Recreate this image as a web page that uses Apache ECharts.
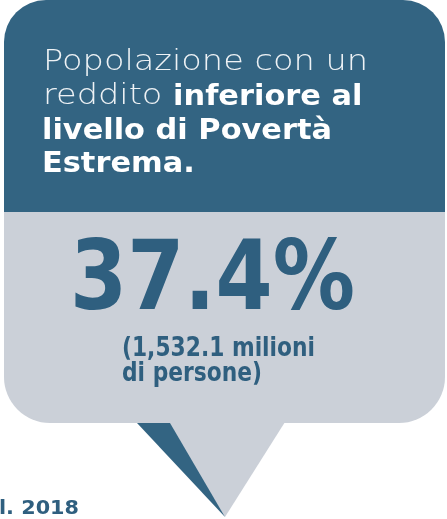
<!DOCTYPE html>
<html>
<head>
<meta charset="utf-8">
<script src="https://cdn.jsdelivr.net/npm/echarts@6/dist/echarts.min.js"></script>
<style>
html,body{margin:0;padding:0;background:#ffffff;}
#chart{width:447px;height:519px;}
</style>
</head>
<body>
<div id="chart"></div>
<script>
// Data
const titleLines = ['Popolazione con un', 'reddito ', 'inferiore al', 'livello di Povertà', 'Estrema.'];
const percentValue = [37.4];
const peopleMillions = [1532.1];
const peopleLabel = ['milioni', 'di persone'];
const sourceText = ['l. 2018'];

const BLUE = '#336482';
const GRAY = '#cbd0d8';
const DARK = '#2f5f7f';
const FONT = '"DejaVu Sans", "Noto Sans", sans-serif';

function fmtNum(v) {
  const parts = v.toFixed(1).split('.');
  parts[0] = parts[0].replace(/\B(?=(\d{3})+(?!\d))/g, ',');
  return parts.join('.');
}

const ctx = document.createElement('canvas').getContext('2d');
function measure(text, font) { ctx.font = font; return ctx.measureText(text).width; }

const LIGHT = '300 29px ' + FONT;
const BOLD = 'bold 28px ' + FONT;
// horizontal stretch to emulate the wide geometric typeface
const titleScale = 325 / measure(titleLines[0], LIGHT);
const titleBoldScale = 290 / measure(titleLines[3], BOLD);
const bigFont = 'bold 96px ' + FONT;
const bigText = percentValue[0].toFixed(1) + '%';
const bigScale = 285 / measure(bigText, bigFont);
const subFont = 'bold 26px ' + FONT;
const subLine1 = '(' + fmtNum(peopleMillions[0]) + ' ' + peopleLabel[0];
const subScale = 193 / measure(subLine1, subFont);
const srcFont = 'bold 20px ' + FONT;
const srcScale = 80 / measure(sourceText[0], srcFont);

const l2a = measure(titleLines[1], LIGHT) * titleScale;

const chart = echarts.init(document.getElementById('chart'), null, {renderer: 'canvas'});
const option = {
  backgroundColor: '#ffffff',
  animation: false,
  graphic: [
    {type: 'rect', shape: {x: 4, y: 0, width: 441, height: 212, r: [42, 42, 0, 0]}, style: {fill: BLUE}},
    {type: 'rect', shape: {x: 4, y: 212, width: 441, height: 211, r: [0, 0, 46, 46]}, style: {fill: GRAY}},
    {type: 'polygon', shape: {points: [[166, 422], [285, 422], [225, 517]]}, style: {fill: GRAY}},
    {type: 'polygon', shape: {points: [[137, 423], [170, 423], [225, 517]]}, style: {fill: BLUE}},
    // title
    {type: 'text', x: 43, y: 48, scaleX: titleScale, style: {text: titleLines[0], fill: '#eef2f5', font: LIGHT, verticalAlign: 'top'}},
    {type: 'text', x: 43, y: 82, scaleX: titleScale, style: {text: titleLines[1], fill: '#eef2f5', font: LIGHT, verticalAlign: 'top'}},
    {type: 'text', x: 43 + l2a, y: 84, scaleX: titleBoldScale, style: {text: titleLines[2], fill: '#ffffff', font: BOLD, verticalAlign: 'top'}},
    {type: 'text', x: 42, y: 118, scaleX: titleBoldScale, style: {text: titleLines[3], fill: '#ffffff', font: BOLD, verticalAlign: 'top'}},
    {type: 'text', x: 42, y: 151, scaleX: titleBoldScale, style: {text: titleLines[4], fill: '#ffffff', font: BOLD, verticalAlign: 'top'}},
    // big number
    {type: 'text', x: 70, y: 284, scaleX: bigScale, style: {text: bigText, fill: DARK, font: bigFont, verticalAlign: 'middle'}},
    // sub text
    {type: 'text', x: 122, y: 336, scaleX: subScale, style: {text: subLine1, fill: DARK, font: subFont, verticalAlign: 'top'}},
    {type: 'text', x: 122, y: 361, scaleX: subScale, style: {text: peopleLabel[1] + ')', fill: DARK, font: subFont, verticalAlign: 'top'}},
    // source
    {type: 'text', x: -1, y: 499, scaleX: srcScale, style: {text: sourceText[0], fill: DARK, font: srcFont, verticalAlign: 'top'}}
  ]
};
chart.setOption(option);
</script>
</body>
</html>
